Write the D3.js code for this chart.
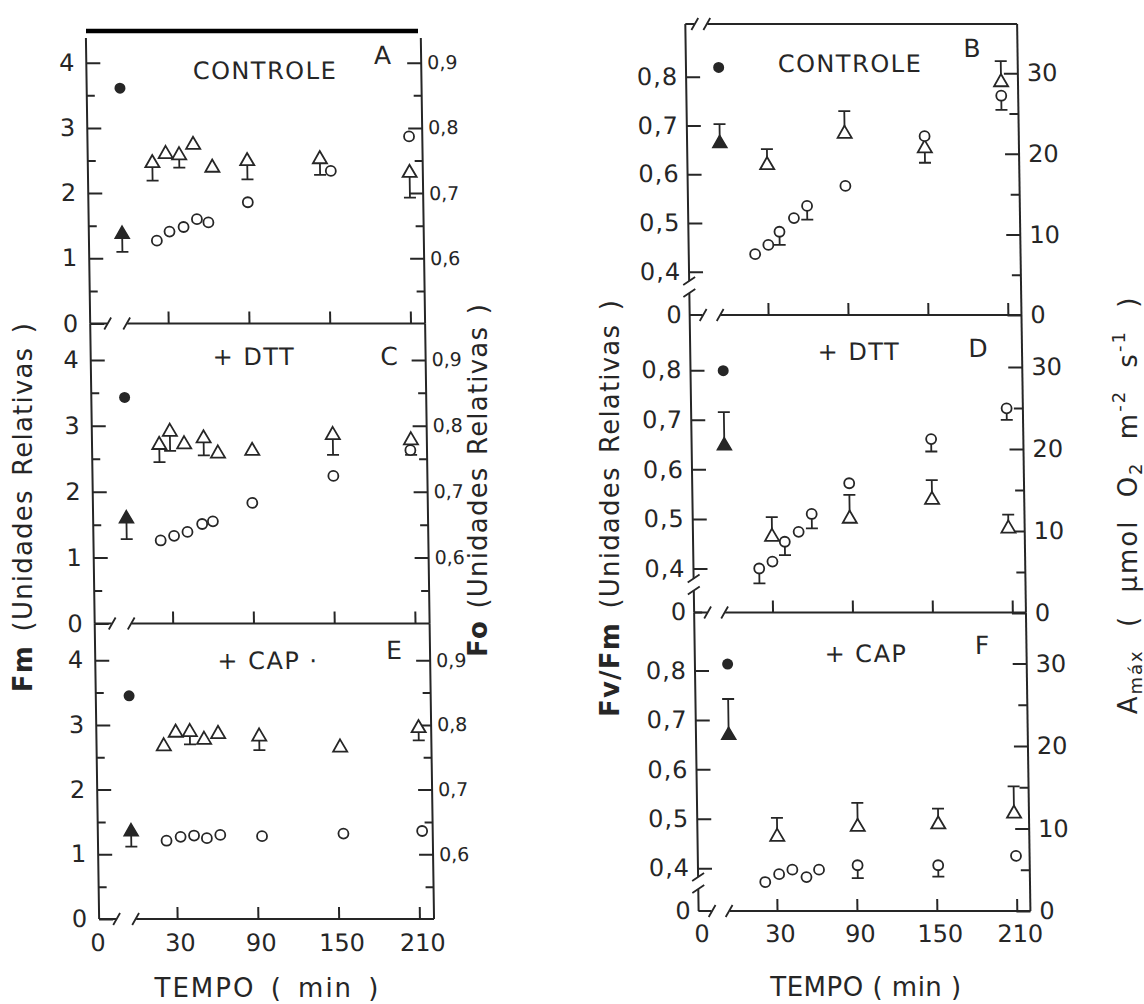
<!DOCTYPE html>
<html><head><meta charset="utf-8">
<script src="https://cdn.jsdelivr.net/npm/d3@7/dist/d3.min.js"></script>
<style>
html,body{margin:0;padding:0;background:#fff}
svg{display:block}
</style></head>
<body><svg id="chart" width="1144" height="1004"></svg>
<script>
// ---------------- data ----------------
const timeTicks = [30, 90, 150, 210];
const fmTicks = [0, 1, 2, 3, 4];
const fmMinor = [0.5, 1.5, 2.5, 3.5];
const foTicks = [0.6, 0.7, 0.8, 0.9];
const foMinor = [0.55, 0.65, 0.75, 0.85];
const fvfmTicks = [0.4, 0.5, 0.6, 0.7, 0.8];
const amaxTicks = [0, 10, 20, 30];
const amaxMinor = [5, 15, 25];

// [time (min), value, error-bar end]
const fmA = [[22.5,1.27],[32,1.41],[42.5,1.48],[52.5,1.60],[61,1.55],[90.5,1.86],[152.5,2.34],[211,2.87]];
const foA = [[20,0.746,0.719],[30,0.760],[40,0.758,0.739],[50.5,0.774],[64.5,0.739],[90.5,0.749,0.721],[144.5,0.752,0.728],[211,0.731,0.693]];
const fmC = [[22,1.26],[32,1.33],[42,1.39],[53,1.51],[61,1.55],[90.5,1.83],[151,2.24],[208.5,2.63]];
const foC = [[22,0.771,0.745],[30,0.791,0.762],[40.5,0.772],[55,0.781,0.755],[65.5,0.758],[91,0.762],[151,0.786,0.756],[209,0.778,0.756]];
const fmE = [[23,1.21],[33.5,1.27],[43.5,1.29],[53,1.25],[63,1.30],[94,1.28],[154.5,1.32],[213,1.36]];
const foE = [[22,0.767],[31,0.788],[41.5,0.789,0.770],[52,0.777],[62.5,0.786],[93,0.782,0.761],[153,0.765],[211.5,0.795,0.776]];
const initFm = [3.61, 3.43, 3.45];
const initFo = [0.637, 0.659, 0.635];
const initFoErr = [0.610, 0.628, 0.612];

const fvB = [[21,0.436],[31,0.455],[39.5,0.482,0.455],[50.5,0.510],[60.5,0.535,0.507],[89.5,0.576],[149.5,0.678],[207.5,0.761,0.732]];
const amB = [[31,18.6,20.6],[89.5,22.5,25.3],[149.5,20.7,18.9],[207.5,28.9,31.5]];
const fvD = [[20.5,0.400,0.370],[30.5,0.414],[40,0.454,0.427],[50.5,0.474],[60.5,0.510,0.481],[89,0.572],[151,0.661,0.636],[208,0.723,0.700]];
const amD = [[30.5,9.3,11.7],[89,11.5,14.4],[151,13.8,16.2],[208,10.3,12.0]];
const fvF = [[21.5,0.372],[32,0.388],[42,0.397],[52.5,0.382],[62,0.397],[91,0.406,0.380],[151.5,0.406,0.383],[210,0.425]];
const amF = [[31,9.0,11.3],[91.5,10.2,13.1],[152,10.5,12.4],[209,11.8,15.1]];
const initFvFm = [0.819, 0.799, 0.813];
const initAmax = [21.3, 20.4, 21.3];
const initAmaxErr = [23.7, 24.5, 25.7];

const leftTitles = ['CONTROLE', '+ DTT', '+ CAP ·'];
const leftLetters = ['A', 'C', 'E'];
const rightTitles = ['CONTROLE', '+ DTT', '+ CAP'];
const rightLetters = ['B', 'D', 'F'];

// ---------------- layout ----------------
const INK = '#262626';
const FONT = '"DejaVu Sans", "Liberation Sans", sans-serif';
const K = 0.015, Y0 = 470;
const skewDeg = Math.atan(K) * 180 / Math.PI;
const loc = d3.formatLocale({decimal: ',', thousands: '.', grouping: [3], currency: ['', '']});
const fmt1 = loc.format('.1f');

const svg = d3.select('#chart');
svg.append('rect').attr('width', 1144).attr('height', 1004).attr('fill', '#fff');

const LG = {left: 92.4, right: 427.3, x0: 125.7, x30: 170.4, x210: 412.7};
const RG = {left: 692, right: 1023.8, x0: 724.7, x30: 770.4, x210: 1010.2};

const leftPanels = [
  {top: 38, bottom: 323.5, unit: 65.2, tx: 271, ty: 70.7, lx: 388.7, ly: 55.5, circ: fmA, tri: foA},
  {top: 323.5, bottom: 623.5, unit: 65.9, tx: 255.7, ty: 356.7, lx: 390.7, ly: 356, circ: fmC, tri: foC},
  {top: 623.5, bottom: 919, unit: 64.7, tx: 265.2, ty: 660, lx: 391.3, ly: 650, circ: fmE, tri: foE}
];
const rightPanels = [
  {top: 24, bottom: 315, l04: 271.7, l08: 76.7, r0: 315, r30: 73.3, tx: 856.1, ty: 63.6, lx: 978.3, ly: 48.5, circ: fvB, tri: amB},
  {top: 315, bottom: 612.5, l04: 568.5, l08: 370.2, r0: 613, r30: 367, tx: 860.8, ty: 351.7, lx: 979.8, ly: 348.5, circ: fvD, tri: amD},
  {top: 612.5, bottom: 911, l04: 868.2, l08: 670.5, r0: 911, r30: 663.5, tx: 863.2, ty: 653.5, lx: 979.4, ly: 645, circ: fvF, tri: amF}
];

function xScaleFor(G) {
  const s = (G.x210 - G.x30) / 180;
  return d3.scaleLinear().domain([0, 15, 210]).range([G.x0, G.x30 - 15 * s, G.x210]);
}

function styleAxis(sel, size, ls) {
  sel.attr('font-family', null).attr('font-size', null);
  sel.select('.domain').remove();
  sel.selectAll('.tick line').attr('stroke', INK).attr('stroke-width', 2);
  sel.selectAll('.tick text').attr('fill', INK).style('font-family', FONT)
    .style('font-size', size + 'px').style('letter-spacing', (ls || 0) + 'px');
}

function line(g, d, w) {
  return g.append('path').attr('d', d).attr('fill', 'none').attr('stroke', INK)
    .attr('stroke-width', w || 2).attr('stroke-linecap', 'butt');
}

function hBreak(g, y, xl, xr, g1, g2) {
  line(g, `M${xl},${y}H${g1}M${g2},${y}H${xr}`);
  line(g, `M${g1 - 3},${y + 6}L${g1 + 4},${y - 6}M${g2 - 4},${y + 6}L${g2 + 3},${y - 6}`, 1.8);
}

function drawMarks(g, x, yC, yT, circ, tri, c0, t0, t0e) {
  const errs = [];
  circ.filter(d => d[2] != null).forEach(d => errs.push([x(d[0]), yC(d[1]), yC(d[2])]));
  tri.filter(d => d[2] != null).forEach(d => errs.push([x(d[0]), yT(d[1]), yT(d[2])]));
  errs.push([x(0), yT(t0), yT(t0e)]);
  g.selectAll('path.err').data(errs).join('path').attr('class', 'err')
    .attr('d', d => `M${d[0]},${d[1]}V${d[2]}M${d[0] - 6},${d[2]}H${d[0] + 6}`)
    .attr('fill', 'none').attr('stroke', INK).attr('stroke-width', 1.8);
  const triSym = d3.symbol().type(d3.symbolTriangle).size(86);
  g.selectAll('path.tri').data(tri).join('path').attr('class', 'tri')
    .attr('d', triSym).attr('transform', d => `translate(${x(d[0])},${yT(d[1])})`)
    .attr('fill', '#fff').attr('stroke', INK).attr('stroke-width', 1.8);
  g.selectAll('circle.cir').data(circ).join('circle').attr('class', 'cir')
    .attr('cx', d => x(d[0])).attr('cy', d => yC(d[1])).attr('r', 5)
    .attr('fill', '#fff').attr('stroke', INK).attr('stroke-width', 1.8);
  g.append('path').attr('d', triSym).attr('transform', `translate(${x(0)},${yT(t0)})`).attr('fill', INK).attr('stroke', INK).attr('stroke-width', 1.5);
  g.append('circle').attr('cx', x(0)).attr('cy', yC(c0)).attr('r', 5.5).attr('fill', INK);
}

function label(g, txt, x, y, size, ls) {
  g.append('text').attr('x', x).attr('y', y).attr('dy', '0.36em').attr('text-anchor', 'middle')
    .style('font-family', FONT).style('font-size', size + 'px').style('letter-spacing', (ls || 0) + 'px')
    .attr('fill', INK).text(txt);
}

// ---------------- left group (A, C, E) ----------------
const leftGroup = svg.append('g').attr('transform', `translate(0,${Y0}) skewX(${skewDeg}) translate(0,${-Y0})`);
const xL = xScaleFor(LG);
leftPanels.forEach((P, i) => {
  const g = leftGroup.append('g');
  const yFm = d3.scaleLinear().domain([0, 4]).range([P.bottom, P.bottom - 4 * P.unit]);
  const yFo = d3.scaleLinear().domain([0.5, 0.9]).range([P.bottom, P.bottom - 4 * P.unit]);
  line(g, `M${LG.left},${P.top}V${P.bottom}M${LG.right},${P.top}V${P.bottom}`);
  hBreak(g, P.bottom, LG.left, LG.right, LG.left + 17, LG.left + 37);
  const last = i === leftPanels.length - 1;
  g.append('g').attr('transform', `translate(0,${P.bottom})`)
    .call(d3.axisBottom(xL).tickValues(timeTicks).tickSize(-12).tickSizeOuter(0).tickPadding(15)
      .tickFormat(last ? d3.format('d') : () => ''))
    .call(s => styleAxis(s, 24)).call(s => s.selectAll('.tick text').attr('dx', 2.5));
  if (last) label(g, '0', LG.left - 1.5, P.bottom + 15 + 17 - 8.6, 24);
  g.append('g').attr('transform', `translate(${LG.left},0)`)
    .call(d3.axisLeft(yFm).tickValues(fmTicks).tickSize(-14).tickSizeOuter(0).tickPadding(12).tickFormat(d3.format('d')))
    .call(s => styleAxis(s, 24));
  g.append('g').attr('transform', `translate(${LG.left},0)`)
    .call(d3.axisLeft(yFm).tickValues(fmMinor).tickSize(-8).tickSizeOuter(0).tickFormat(() => ''))
    .call(s => styleAxis(s, 24));
  g.append('g').attr('transform', `translate(${LG.right},0)`)
    .call(d3.axisRight(yFo).tickValues(foTicks).tickSize(-14).tickSizeOuter(0).tickPadding(6).tickFormat(fmt1))
    .call(s => styleAxis(s, 19));
  g.append('g').attr('transform', `translate(${LG.right},0)`)
    .call(d3.axisRight(yFo).tickValues(foMinor).tickSize(-8).tickSizeOuter(0).tickFormat(() => ''))
    .call(s => styleAxis(s, 19));
  drawMarks(g, xL, yFm, yFo, P.circ, P.tri, initFm[i], initFo[i], initFoErr[i]);
  label(g, leftTitles[i], P.tx, P.ty, 24, 1.5);
  label(g, leftLetters[i], P.lx, P.ly, 25);
});

// ---------------- right group (B, D, F) ----------------
const rightGroup = svg.append('g').attr('transform', `translate(0,${Y0}) skewX(${skewDeg}) translate(0,${-Y0})`);
const xR = xScaleFor(RG);
rightPanels.forEach((P, i) => {
  const g = rightGroup.append('g');
  const yFv = d3.scaleLinear().domain([0.4, 0.8]).range([P.l04, P.l08]);
  const yAm = d3.scaleLinear().domain([0, 30]).range([P.r0, P.r30]);
  const b = P.bottom;
  // left axis with break between 0 and 0.4
  line(g, `M${RG.left},${P.top}V${b - 34}M${RG.left},${b - 22}V${b}`);
  line(g, `M${RG.left - 6},${b - 30}L${RG.left + 6},${b - 38}M${RG.left - 6},${b - 18}L${RG.left + 6},${b - 26}`, 1.8);
  line(g, `M${RG.right},${P.top}V${b}`);
  hBreak(g, b, RG.left, RG.right, RG.left + 13, RG.left + 31);
  if (i === 0) hBreak(g, P.top, RG.left, RG.right, RG.left + 9, RG.left + 22);
  const last = i === rightPanels.length - 1;
  g.append('g').attr('transform', `translate(0,${b})`)
    .call(d3.axisBottom(xR).tickValues(timeTicks).tickSize(-12).tickSizeOuter(0).tickPadding(14)
      .tickFormat(last ? d3.format('d') : () => ''))
    .call(s => styleAxis(s, 24)).call(s => s.selectAll('.tick text').attr('dx', 2.6));
  if (last) label(g, '0', RG.left + 3, b + 14 + 17 - 8.6, 24);
  g.append('g').attr('transform', `translate(${RG.left},0)`)
    .call(d3.axisLeft(yFv).tickValues(fvfmTicks).tickSize(-14).tickSizeOuter(0).tickPadding(8).tickFormat(fmt1))
    .call(s => styleAxis(s, 24, 1));
  // "0" at foot of left axis
  line(g, `M${RG.left},${b}H${RG.left + 8}`);
  g.append('text').attr('x', RG.left - 8).attr('y', b).attr('dy', '0.32em').attr('text-anchor', 'end')
    .style('font-family', FONT).style('font-size', '24px').attr('fill', INK).text('0');
  g.append('g').attr('transform', `translate(${RG.right},0)`)
    .call(d3.axisRight(yAm).tickValues(amaxTicks).tickSize(-14).tickSizeOuter(0).tickPadding(9).tickFormat(d3.format('d')))
    .call(s => styleAxis(s, 24));
  g.append('g').attr('transform', `translate(${RG.right},0)`)
    .call(d3.axisRight(yAm).tickValues(amaxMinor).tickSize(-9).tickSizeOuter(0).tickFormat(() => ''))
    .call(s => styleAxis(s, 24));
  drawMarks(g, xR, yFv, yAm, P.circ, P.tri, initFvFm[i], initAmax[i], initAmaxErr[i]);
  label(g, rightTitles[i], P.tx, P.ty, 24, 1.5);
  label(g, rightLetters[i], P.lx, P.ly, 25);
});

// ---------------- frame bar & titles ----------------
svg.append('line').attr('x1', 86).attr('x2', 418).attr('y1', 31).attr('y2', 31)
  .attr('stroke', '#000').attr('stroke-width', 4.5);

function vTitle(x, y, parts, ls, ws) {
  const t = svg.append('text').attr('transform', `translate(${x},${y}) rotate(-90)`)
    .attr('text-anchor', 'middle').attr('dominant-baseline', 'central')
    .style('font-family', FONT).style('font-size', '26px')
    .style('letter-spacing', ls + 'px').style('word-spacing', ws + 'px').attr('fill', INK);
  parts.forEach(p => {
    const s = t.append('tspan').text(p.t);
    if (p.b) s.attr('font-weight', 'bold');
    if (p.dy) s.attr('dy', p.dy);
    if (p.fs) s.style('font-size', p.fs + 'px');
  });
}
vTitle(23, 507, [{t: 'Fm', b: true}, {t: ' (Unidades  Relativas )'}], 1.2, 4);
vTitle(478, 480, [{t: 'Fo', b: true}, {t: ' (Unidades  Relativas )'}], 1.2, 2);
vTitle(610, 508, [{t: 'Fv/Fm', b: true}, {t: ' (Unidades  Relativas )'}], 1.2, 4);
vTitle(1128, 505, [
  {t: 'A'}, {t: 'máx', dy: 7, fs: 18}, {t: ' ( μmol O', dy: -7}, {t: '2', dy: 7, fs: 18},
  {t: ' m', dy: -7}, {t: '-2', dy: -10, fs: 18}, {t: ' s', dy: 10}, {t: '-1', dy: -10, fs: 18}, {t: ' )', dy: 10}
], 2, 12);

function hTitle(x, y, txt, ls, ws) {
  svg.append('text').attr('x', x).attr('y', y).attr('dy', '0.36em').attr('text-anchor', 'middle')
    .style('font-family', FONT).style('font-size', '26px').style('letter-spacing', ls + 'px')
    .style('word-spacing', ws + 'px').attr('fill', INK).text(txt);
}
hTitle(267.5, 988, 'TEMPO ( min )', 2, 5);
hTitle(866, 987, 'TEMPO ( min )', 0.5, 0);
</script>
</body></html>
